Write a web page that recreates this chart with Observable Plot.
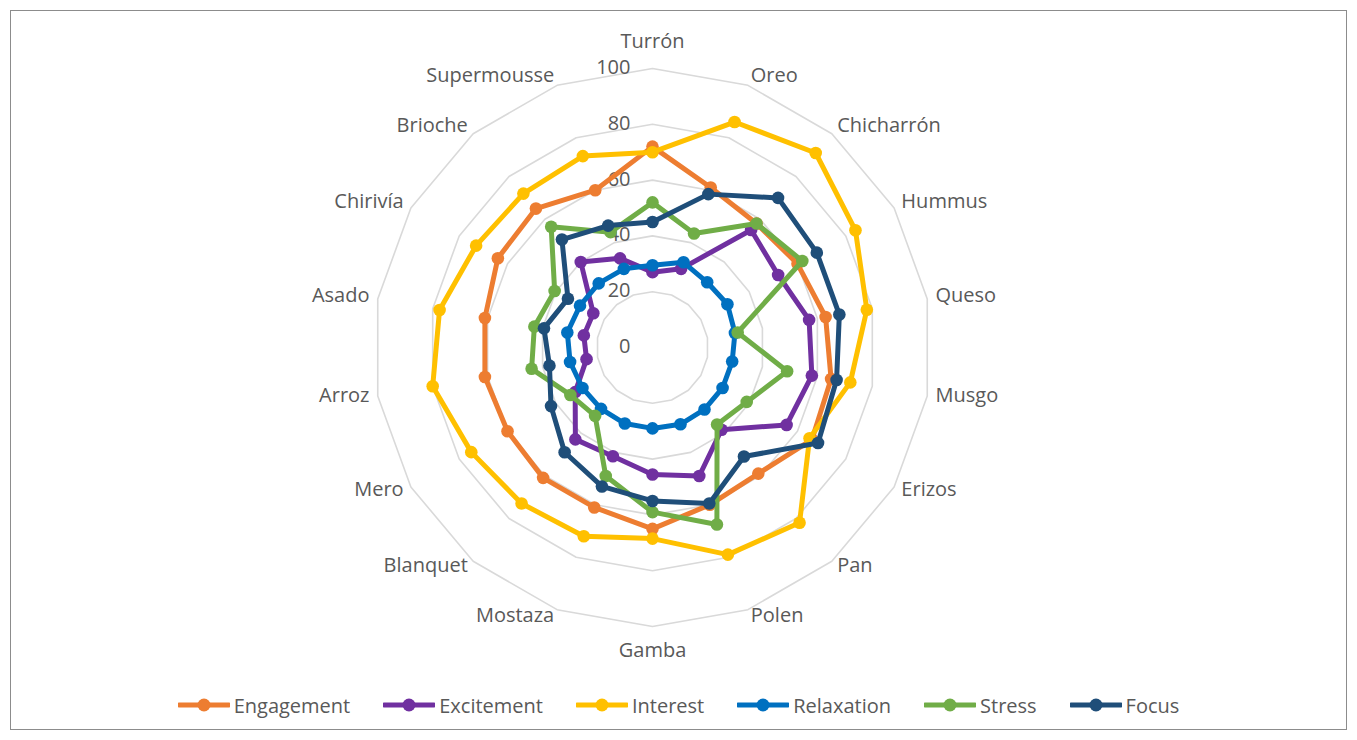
<!DOCTYPE html>
<html><head><meta charset="utf-8">
<script src="https://cdn.jsdelivr.net/npm/d3@7"></script>
<script src="https://cdn.jsdelivr.net/npm/@observablehq/plot@0.6"></script>
<style>
body{margin:0;background:#fff;font-family:"Open Sans",sans-serif;}
#frame{position:absolute;left:10px;top:10px;width:1335px;height:718px;border:1px solid #8c8c8c;background:#fff;}
#chart{position:absolute;left:0;top:0;}
#legend{position:absolute;left:0;width:100%;top:672px;height:44px;display:flex;justify-content:center;align-items:center;gap:33px;color:#595959;font-size:20px;}
.item{display:flex;align-items:center;gap:4px;}
.item svg{display:block;}
</style>
</head><body>
<div id="frame"><div id="chart"></div><div id="legend"></div></div>
<script>
const categories = ["Turrón","Oreo","Chicharrón","Hummus","Queso","Musgo","Erizos","Pan","Polen","Gamba","Mostaza","Blanquet","Mero","Arroz","Asado","Chirivía","Brioche","Supermousse"];
const engagement = [72,61,58,60,63,65,66,59,60,65,61,61,60,61,61,64,65,60];
const excitement = [27,30,55,52,57,58,55.5,38.5,49,45.5,41.5,43,32,24,25,24.5,40,34];
const interest   = [70,86,91,84,78,72,65,82,79,68.5,72,73,75,80,77.5,73,72,73];
const relaxation = [29.5,32.5,30.5,31,30,29,29,29,29.3,29,29,28.7,29,30,31,30,30,30];
const stress     = [52,43.5,58,62,31,49,39,36,67.5,59,49,32,34,44,43,40.5,56.5,44];
const focus      = [45,58.5,70,68,68,67,68.5,51,59.5,55,53,49,42,37.5,39.5,35,50.5,46.5];
const seriesNames  = ["Engagement","Excitement","Interest","Relaxation","Stress","Focus"];
const seriesValues = [engagement, excitement, interest, relaxation, stress, focus];
const seriesColors = ["#ED7D31","#7030A0","#FFC000","#0070C0","#70AD47","#1F4E79"];
const tickValues = [0,20,40,60,80,100];
const gridValues = [20,40,60,80,100];

const W = 1335, H = 660, CX = 641, CY = 336, UNIT = 2.79;
const N = categories.length;
const ang = i => i * 2 * Math.PI / N;
const px = (v, i) => v * Math.sin(ang(i));
const py = (v, i) => v * Math.cos(ang(i));

const gridPts = gridValues.flatMap(g => d3.range(N + 1).map(i => ({g, x: px(g, i % N), y: py(g, i % N)})));

const LABEL_R = 103;
const labels = categories.map((c, i) => ({c, i, s: Math.sin(ang(i)), co: Math.cos(ang(i))}));
const txt = {fontSize: 20, fill: "#595959", fontFamily: "Open Sans"};

const marks = [
  Plot.line(gridPts, {x: "x", y: "y", z: "g", stroke: "#d9d9d9", strokeWidth: 1.6}),
  Plot.text(tickValues, {x: () => 0, y: d => d, text: d => String(d), textAnchor: "end", dx: -22, dy: -1, ...txt}),
  Plot.text(labels.filter(d => d.s > 0.1), {x: d => px(LABEL_R, d.i), y: d => py(LABEL_R, d.i), text: "c", textAnchor: "start", dy: -2, ...txt}),
  Plot.text(labels.filter(d => d.s < -0.1), {x: d => px(LABEL_R, d.i), y: d => py(LABEL_R, d.i), text: "c", textAnchor: "end", dy: -2, ...txt}),
  Plot.text(labels.filter(d => Math.abs(d.s) <= 0.1 && d.co > 0), {x: d => px(LABEL_R, d.i), y: d => py(LABEL_R, d.i), text: "c", textAnchor: "middle", dy: -19, ...txt}),
  Plot.text(labels.filter(d => Math.abs(d.s) <= 0.1 && d.co < 0), {x: d => px(LABEL_R, d.i), y: d => py(LABEL_R, d.i), text: "c", textAnchor: "middle", dy: 16, ...txt})
];

seriesNames.forEach((name, k) => {
  const pts = seriesValues[k].map((v, i) => ({name, x: px(v, i), y: py(v, i)}));
  marks.push(Plot.line(pts, {x: "x", y: "y", stroke: seriesColors[k], strokeWidth: 5, curve: "linear-closed", strokeLinejoin: "round"}));
  marks.push(Plot.dot(pts, {x: "x", y: "y", fill: seriesColors[k], r: 6.3, stroke: "none"}));
});

const chart = Plot.plot({
  width: W, height: H, margin: 0,
  x: {domain: [-CX / UNIT, (W - CX) / UNIT], axis: null},
  y: {domain: [-(H - CY) / UNIT, CY / UNIT], axis: null},
  style: {background: "transparent", overflow: "visible"},
  marks
});
document.getElementById("chart").appendChild(chart);

const legend = document.getElementById("legend");
seriesNames.forEach((name, k) => {
  const item = document.createElement("div");
  item.className = "item";
  item.innerHTML = `<svg width="52" height="16"><line x1="1" y1="8" x2="51" y2="8" stroke="${seriesColors[k]}" stroke-width="5" stroke-linecap="round"/><circle cx="26" cy="8" r="6.5" fill="${seriesColors[k]}"/></svg><span>${name}</span>`;
  legend.appendChild(item);
});
</script>
</body></html>
